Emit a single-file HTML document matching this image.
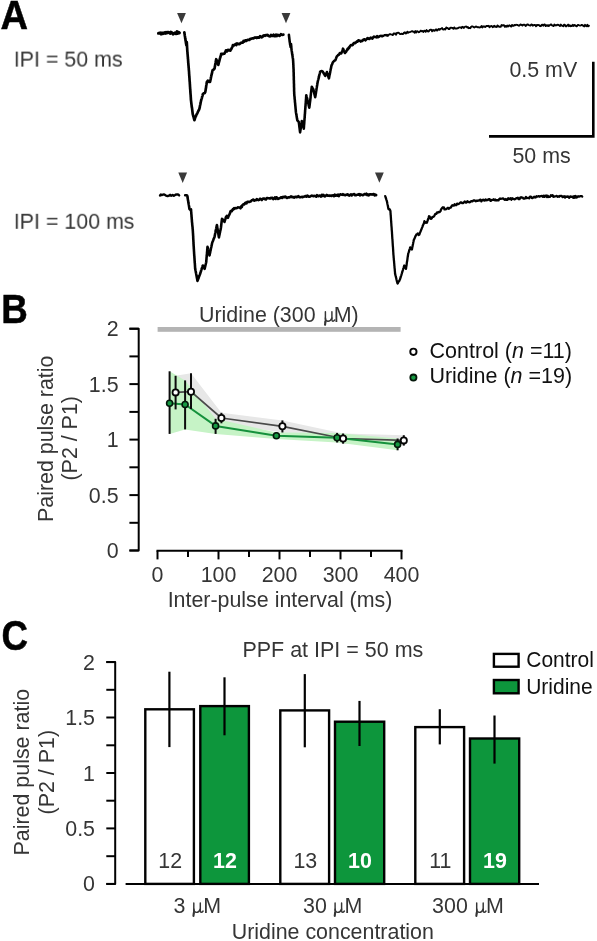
<!DOCTYPE html>
<html><head><meta charset="utf-8"><title>Figure</title>
<style>
html,body{margin:0;padding:0;background:#fff;}
body{width:597px;height:941px;overflow:hidden;font-family:"Liberation Sans",sans-serif;}
svg{display:block;font-family:"Liberation Sans",sans-serif;will-change:transform;}
</style></head><body>
<svg width="597" height="941" viewBox="0 0 597 941">
<rect width="597" height="941" fill="#fff"/>
<g opacity="0.999">
<path d="M158.5,33.3 L159.4,33.1 L160.2,32.9 L161.1,34.0 L162.0,33.0 L162.8,33.7 L163.6,33.3 L164.4,32.6 L165.2,33.3 L166.0,32.3 L166.8,33.0 L167.6,32.2 L168.4,32.2 L169.2,32.7 L170.0,33.4 L170.8,32.2 L171.6,32.5 L172.4,33.3 L173.2,34.1 L174.0,33.4 L175.0,32.9 L176.0,33.7 L177.0,31.7 L177.8,33.4 L178.6,32.4 L179.4,32.9" fill="none" stroke="#000" stroke-width="3.1" stroke-linejoin="round" stroke-linecap="round"/>
<path d="M184.3,32.3 L184.4,33.2 L184.6,34.0 L184.7,34.9 L184.8,35.7 L185.0,36.6 L185.1,37.4 L185.2,38.3 L185.4,39.1 L185.5,40.0 L185.6,40.8 L185.8,41.7 L185.9,42.5 L186.0,43.3 L186.2,44.2 L186.3,45.0 L186.5,44.0 L186.6,43.0 L186.8,42.0 L186.8,42.8 L186.9,43.7 L186.9,44.5 L187.0,45.3 L187.0,46.2 L187.1,47.0 L187.1,47.8 L187.2,48.7 L187.2,49.5 L187.3,50.3 L187.3,51.1 L187.4,51.9 L187.5,52.7 L187.5,53.5 L187.6,54.3 L187.7,55.1 L187.7,55.9 L187.8,56.7 L187.9,57.5 L187.9,58.3 L188.0,59.1 L188.1,59.9 L188.1,60.7 L188.2,61.5 L188.2,62.3 L188.3,63.1 L188.4,63.9 L188.4,64.7 L188.5,65.5 L188.6,66.3 L188.6,67.1 L188.7,67.9 L188.8,68.7 L188.8,69.5 L188.9,70.3 L189.0,71.1 L189.0,71.9 L189.1,72.7 L189.1,73.6 L189.2,74.4 L189.2,75.2 L189.3,76.0 L189.4,76.8 L189.4,77.6 L189.5,78.4 L189.5,79.2 L189.6,80.1 L189.6,80.9 L189.7,81.7 L189.8,82.5 L189.8,83.3 L189.9,84.1 L189.9,84.9 L190.0,85.8 L190.0,86.6 L190.1,87.4 L190.1,88.2 L190.2,89.0 L190.3,89.8 L190.3,90.6 L190.4,91.5 L190.4,92.3 L190.5,93.1 L190.5,93.9 L190.6,94.7 L190.7,95.5 L190.7,96.3 L190.8,97.1 L190.8,98.0 L190.9,98.8 L190.9,99.6 L191.0,100.4 L191.1,101.2 L191.2,102.1 L191.3,102.9 L191.4,103.8 L191.5,104.6 L191.6,105.4 L191.7,106.3 L191.8,107.1 L192.0,107.9 L192.1,108.8 L192.2,109.6 L192.3,110.5 L192.4,111.3 L192.5,112.1 L192.6,113.0 L192.7,113.8 L192.9,114.6 L193.1,115.4 L193.3,116.2 L193.6,117.0 L193.8,117.8 L194.0,118.6 L194.2,119.4 L194.4,120.2 L194.7,119.4 L194.9,118.6 L195.2,117.8 L195.5,117.0 L195.7,116.3 L196.0,116.0 L196.5,114.6 L197.0,113.8 L197.5,112.8 L197.9,111.9 L198.3,111.2 L198.6,110.3 L199.0,109.8 L199.4,108.8 L199.6,107.9 L199.8,107.1 L199.9,106.2 L200.1,105.3 L200.3,104.5 L200.5,103.6 L200.6,102.7 L200.8,101.9 L201.0,101.0 L201.2,100.2 L201.4,99.4 L201.7,98.6 L201.9,97.8 L202.1,96.9 L202.4,96.1 L202.6,95.3 L202.8,94.2 L204.0,93.1 L204.7,93.2 L205.3,92.0 L205.4,91.2 L205.6,90.3 L205.7,89.5 L205.8,88.6 L206.0,87.8 L206.1,87.0 L206.2,86.1 L206.3,85.3 L206.5,84.5 L206.6,83.6 L206.7,82.8 L206.9,81.9 L207.0,82.0 L207.8,80.7 L208.5,81.2 L209.2,82.0 L210.0,82.0 L210.2,81.1 L210.4,80.2 L210.6,79.4 L210.8,78.5 L210.9,77.6 L211.1,76.8 L211.3,75.9 L211.5,75.0 L211.7,74.2 L211.9,73.4 L212.1,72.6 L212.2,71.8 L212.4,71.0 L212.6,70.2 L212.8,69.9 L213.7,69.5 L214.5,68.6 L214.7,67.8 L214.8,66.9 L215.0,66.1 L215.1,65.3 L215.3,64.4 L215.4,63.6 L215.6,62.7 L215.7,61.9 L215.9,61.1 L216.0,60.2 L216.2,59.2 L216.6,60.1 L216.9,61.3 L217.3,62.0 L217.6,62.9 L218.0,64.0 L218.3,64.9 L218.5,64.1 L218.7,63.2 L218.9,62.4 L219.2,61.5 L219.4,60.7 L219.6,59.8 L219.8,59.0 L220.0,58.2 L220.3,57.4 L220.5,56.6 L220.7,55.9 L221.0,55.1 L221.2,53.8 L222.0,53.9 L222.8,54.1 L223.7,53.5 L224.5,53.6 L225.0,52.4 L225.5,51.8 L226.0,50.3 L226.9,51.4 L227.9,49.9 L228.7,50.1 L229.6,50.4 L230.4,50.6 L230.8,49.4 L231.2,49.2 L231.7,48.1 L232.1,47.4 L232.5,46.7 L232.9,45.1 L233.9,45.5 L235.0,44.6 L235.7,43.9 L236.4,45.0 L237.1,43.4 L238.1,43.8 L239.0,44.2 L240.0,43.7 L240.7,42.9 L241.4,42.8 L242.1,42.5 L242.8,42.6 L243.5,41.0 L244.3,41.5 L245.0,40.5 L245.7,40.3 L246.4,40.9 L247.2,40.0 L247.9,39.8 L248.6,39.8 L249.4,39.9 L250.2,38.8 L251.1,38.9 L251.9,38.5 L252.7,38.3 L253.5,38.4 L254.3,37.7 L255.2,37.7 L256.0,37.4 L256.8,38.0 L257.6,37.4 L258.5,37.7 L259.3,37.7 L260.1,36.2 L261.0,36.7 L261.8,37.3 L262.6,36.9 L263.4,35.5 L264.3,35.3 L265.1,35.8 L265.9,35.0 L266.8,35.3 L267.6,34.9 L268.5,36.0 L269.3,36.2 L270.1,36.4 L271.0,34.9 L271.8,35.9 L272.7,35.8 L273.5,34.7 L274.3,36.1 L275.1,36.2 L276.0,34.7 L276.8,36.0 L277.6,34.9 L278.4,35.0 L279.3,35.9 L280.1,35.6 L280.9,34.2 L281.8,34.7 L282.6,34.8 L283.4,34.7" fill="none" stroke="#000" stroke-width="2.7" stroke-linejoin="round" stroke-linecap="round"/>
<path d="M288.9,34.9 L289.0,35.8 L289.1,36.6 L289.2,37.5 L289.3,38.3 L289.4,39.2 L289.5,40.1 L289.6,40.9 L289.7,41.8 L289.9,42.7 L290.0,43.5 L290.1,44.4 L290.3,45.3 L290.5,46.1 L290.6,47.0 L290.7,46.0 L290.9,45.0 L291.0,44.0 L291.1,44.9 L291.2,45.8 L291.3,46.7 L291.3,47.5 L291.4,48.4 L291.5,49.3 L291.6,50.2 L291.7,51.0 L291.9,51.8 L292.0,52.7 L292.1,53.5 L292.2,54.3 L292.4,55.1 L292.5,55.9 L292.6,56.7 L292.7,57.5 L292.9,58.4 L293.0,59.2 L293.1,60.0 L293.1,60.9 L293.2,61.7 L293.2,62.6 L293.3,63.4 L293.3,64.3 L293.4,65.2 L293.4,66.0 L293.4,66.9 L293.5,67.7 L293.5,68.6 L293.6,69.4 L293.6,70.3 L293.6,71.1 L293.6,71.9 L293.7,72.7 L293.7,73.5 L293.7,74.3 L293.7,75.1 L293.7,75.9 L293.8,76.7 L293.8,77.5 L293.8,78.3 L293.8,79.1 L293.8,79.9 L293.9,80.7 L293.9,81.5 L293.9,82.3 L293.9,83.1 L294.0,83.9 L294.0,84.7 L294.0,85.5 L294.0,86.3 L294.0,87.1 L294.1,87.9 L294.1,88.7 L294.1,89.5 L294.1,90.3 L294.1,91.1 L294.2,91.9 L294.2,92.7 L294.2,93.5 L294.3,94.3 L294.3,95.1 L294.4,95.9 L294.5,96.7 L294.6,97.5 L294.6,98.3 L294.7,99.1 L294.8,99.9 L294.9,100.7 L294.9,101.5 L295.0,102.3 L295.1,103.1 L295.2,103.9 L295.2,104.7 L295.3,105.5 L295.4,106.3 L295.5,107.1 L295.5,107.9 L295.6,108.7 L295.7,109.5 L295.8,110.3 L295.8,111.1 L295.9,111.9 L296.0,112.7 L296.2,113.6 L296.3,114.4 L296.5,115.3 L296.6,116.1 L296.7,116.9 L296.9,117.8 L297.0,118.6 L297.2,119.5 L297.3,120.3 L298.1,121.2 L298.8,122.0 L298.9,122.8 L299.0,123.6 L299.1,124.4 L299.2,125.2 L299.3,126.0 L299.4,126.8 L299.5,127.6 L299.6,128.4 L299.7,129.2 L299.8,130.0 L299.9,130.8 L300.0,131.6 L300.1,132.4 L300.2,131.6 L300.3,130.8 L300.5,130.0 L300.6,129.2 L300.7,128.4 L300.8,127.6 L301.0,126.8 L301.1,125.9 L301.2,125.1 L301.3,124.3 L301.4,123.5 L301.6,122.7 L301.7,121.9 L301.8,121.1 L302.0,121.9 L302.2,122.8 L302.5,123.6 L302.7,124.5 L302.9,125.3 L303.1,126.2 L303.4,127.0 L303.6,127.9 L303.8,128.7 L303.9,127.9 L303.9,127.1 L304.0,126.2 L304.0,125.4 L304.1,124.6 L304.2,123.8 L304.2,123.0 L304.3,122.2 L304.3,121.3 L304.4,120.5 L304.5,119.7 L304.5,118.9 L304.6,118.1 L304.7,117.3 L304.7,116.4 L304.8,115.6 L304.8,114.8 L304.9,114.0 L305.0,113.2 L305.0,112.4 L305.1,111.5 L305.1,110.7 L305.2,109.9 L305.3,109.1 L305.3,108.3 L305.4,107.5 L305.4,106.6 L305.5,105.8 L305.6,105.0 L305.6,104.2 L305.7,103.4 L305.8,102.6 L305.8,101.7 L305.9,100.9 L305.9,100.1 L306.0,99.3 L306.1,98.5 L306.1,97.7 L306.2,96.8 L306.2,96.0 L306.3,95.2 L306.5,96.0 L306.7,96.8 L306.9,97.5 L307.1,98.3 L307.2,99.1 L307.4,99.9 L307.6,100.7 L307.8,101.5 L308.0,102.2 L308.2,103.0 L308.4,103.8 L308.6,104.6 L308.7,105.4 L308.9,106.1 L309.1,106.9 L309.3,107.7 L309.4,106.9 L309.5,106.1 L309.6,105.3 L309.7,104.5 L309.8,103.7 L309.9,102.9 L310.0,102.1 L310.1,101.3 L310.2,100.5 L310.3,99.7 L310.4,98.9 L310.5,98.1 L310.6,97.2 L310.6,96.4 L310.7,95.6 L310.8,94.8 L310.9,94.0 L311.0,93.2 L311.1,92.4 L311.2,91.6 L311.3,90.8 L311.4,90.0 L311.5,89.2 L311.6,88.4 L311.7,87.6 L311.8,86.7 L312.2,87.4 L312.6,88.7 L313.1,88.8 L313.5,90.0 L313.7,90.8 L313.9,91.6 L314.1,92.4 L314.3,93.2 L314.4,94.0 L314.6,94.8 L314.8,95.6 L315.0,96.4 L315.2,97.2 L315.3,96.4 L315.5,95.6 L315.6,94.8 L315.7,94.0 L315.9,93.1 L316.0,92.3 L316.1,91.5 L316.3,90.7 L316.4,89.9 L316.5,89.1 L316.6,88.3 L316.8,87.5 L316.9,86.7 L317.0,85.9 L317.2,85.0 L317.3,84.2 L317.4,83.4 L317.6,82.6 L317.7,81.8 L317.9,81.0 L318.1,80.2 L318.3,79.5 L318.5,78.7 L318.7,77.9 L318.9,77.1 L319.0,76.4 L319.2,75.6 L319.4,74.8 L319.6,74.0 L319.8,73.3 L320.0,72.5 L320.2,71.6 L321.0,71.3 L321.9,71.1 L322.7,71.6 L323.1,72.6 L323.5,72.7 L323.9,73.8 L324.4,74.2 L324.8,75.2 L325.2,75.8 L325.5,74.9 L325.9,74.2 L326.2,73.5 L326.6,73.1 L326.9,72.1 L327.1,72.9 L327.4,73.7 L327.6,74.5 L327.9,75.2 L328.1,76.0 L328.4,76.8 L328.6,77.6 L328.9,78.4 L329.1,77.6 L329.2,76.8 L329.4,76.0 L329.5,75.2 L329.7,74.5 L329.9,73.7 L330.0,72.9 L330.2,72.1 L330.3,71.3 L330.5,70.5 L330.6,69.7 L330.8,68.9 L331.0,68.2 L331.1,67.4 L331.3,66.6 L331.4,65.8 L331.6,65.1 L332.1,64.5 L332.5,63.1 L333.0,62.2 L333.6,61.5 L334.1,61.1 L334.7,60.5 L335.3,60.3 L335.7,59.4 L336.0,58.6 L336.4,57.3 L336.8,56.5 L337.1,56.1 L337.5,55.9 L338.3,54.7 L339.0,54.6 L339.8,53.1 L340.5,53.4 L341.3,53.4 L341.6,52.5 L342.0,51.7 L342.3,50.9 L342.7,49.7 L343.0,48.7 L343.4,49.4 L343.8,50.5 L344.2,51.4 L344.6,52.3 L345.0,53.0 L345.5,52.3 L346.0,51.8 L346.5,50.8 L347.0,50.2 L347.5,48.9 L348.0,49.3 L348.5,47.9 L349.0,48.2 L349.5,47.2 L350.0,46.1 L350.7,45.3 L351.4,45.0 L352.1,45.3 L352.8,44.9 L353.5,43.4 L354.1,42.9 L354.8,43.3 L355.5,42.9 L356.2,42.1 L356.9,41.4 L357.6,41.6 L358.4,40.3 L359.2,40.6 L359.9,40.7 L360.7,41.5 L361.5,40.7 L362.3,41.0 L363.0,40.0 L363.8,39.4 L364.6,39.2 L365.4,40.4 L366.1,39.7 L366.9,38.7 L367.7,38.0 L368.5,38.7 L369.3,38.9 L370.1,38.2 L370.9,37.7 L371.6,38.3 L372.4,38.7 L373.2,37.2 L374.0,36.6 L374.8,37.0 L375.6,37.0 L376.4,37.3 L377.1,36.2 L377.9,37.2 L378.7,36.9 L379.5,36.3 L380.3,36.1" fill="none" stroke="#000" stroke-width="2.6" stroke-linejoin="round" stroke-linecap="round"/>
<path d="M380.3,36.1 L381.1,35.4 L382.0,36.7 L382.8,35.4 L383.6,36.2 L384.5,35.0 L385.3,34.8 L386.1,35.7 L387.0,34.7 L387.8,35.9 L388.6,34.9 L389.5,34.2 L390.3,34.1 L391.1,34.4 L392.0,34.7 L392.8,35.1 L393.6,33.5 L394.5,33.8 L395.3,33.4 L396.1,34.7 L396.9,33.0 L397.7,32.8 L398.5,32.7 L399.3,33.3 L400.1,34.1 L400.9,34.0 L401.7,33.7 L402.5,34.1 L403.3,33.9 L404.1,32.6 L404.9,32.3 L405.7,33.6 L406.5,33.2 L407.3,31.7 L408.1,32.8 L408.9,32.2 L409.7,32.1 L410.5,31.9 L411.3,31.5 L412.1,31.1 L412.9,31.6 L413.7,31.7 L414.5,32.7 L415.3,31.1 L416.1,32.6 L416.9,31.1 L417.7,31.4 L418.5,32.2 L419.3,32.1 L420.1,31.3 L420.9,30.6 L421.7,31.3 L422.5,31.0 L423.3,32.0 L424.1,30.6 L424.9,30.9 L425.7,31.8 L426.5,30.1 L427.3,30.8 L428.1,31.5 L428.9,31.3 L429.7,29.9 L430.5,29.8 L431.3,29.7 L432.1,31.3 L433.0,29.9 L433.8,30.7 L434.6,30.9 L435.4,29.7 L436.3,29.4 L437.1,30.6 L437.9,29.8 L438.8,29.0 L439.6,29.8 L440.4,28.9 L441.2,28.7 L442.1,28.1 L442.9,29.4 L443.7,29.6 L444.5,28.9 L445.4,29.4 L446.2,27.5 L447.0,27.8 L447.8,28.2 L448.6,29.1 L449.4,29.1 L450.2,27.9 L451.0,27.6 L451.8,27.9 L452.6,28.0 L453.4,28.8 L454.2,27.4 L455.0,28.5 L455.8,28.4 L456.6,28.5 L457.4,28.3 L458.2,28.0 L459.0,27.4 L459.8,27.4 L460.6,27.4 L461.4,28.2 L462.2,26.8 L463.0,27.0 L463.8,28.0 L464.6,27.0 L465.4,26.6 L466.3,26.5 L467.1,27.5 L467.9,27.0 L468.7,28.2 L469.5,28.0 L470.3,28.2 L471.1,26.8 L471.9,26.4 L472.7,26.4 L473.5,27.1 L474.3,27.5 L475.1,26.9 L475.9,26.5 L476.7,26.8 L477.5,27.2 L478.3,27.2 L479.1,27.3 L479.9,27.5 L480.7,27.1 L481.5,26.0 L482.3,27.4 L483.1,26.3 L483.9,26.8 L484.7,26.4 L485.5,27.0 L486.3,26.0 L487.1,26.0 L487.9,26.0 L488.7,25.8 L489.5,27.2 L490.3,26.6 L491.1,26.0 L491.9,26.2 L492.7,27.3 L493.5,26.3 L494.3,25.8 L495.1,26.8 L495.9,26.5 L496.7,27.1 L497.5,25.4 L498.3,26.1 L499.1,26.7 L499.9,26.7 L500.7,26.8 L501.5,25.1 L502.3,25.6 L503.1,25.2 L504.0,25.3 L504.8,26.8 L505.6,26.0 L506.4,26.7 L507.2,25.6 L508.0,26.5 L508.8,25.7 L509.6,25.3 L510.4,26.2 L511.2,26.5 L512.0,24.9 L512.8,25.8 L513.6,25.8 L514.4,25.0 L515.2,25.3 L516.0,24.8 L516.8,24.9 L517.6,25.0 L518.4,25.6 L519.2,25.7 L520.0,24.8 L520.8,24.4 L521.6,25.0 L522.4,25.6 L523.2,24.7 L524.0,24.9 L524.8,24.7 L525.6,25.9 L526.4,25.4 L527.2,24.5 L528.0,24.5 L528.8,25.1 L529.6,25.4 L530.4,25.6 L531.2,24.5 L532.0,24.7 L532.8,25.7 L533.6,25.1 L534.4,24.9 L535.2,24.9 L536.0,26.2 L536.8,24.9 L537.6,25.4 L538.4,25.0 L539.2,25.1 L540.0,26.0 L540.8,26.2 L541.6,25.0 L542.4,24.7 L543.2,25.7 L544.0,24.7 L544.8,24.4 L545.6,26.1 L546.4,25.2 L547.2,25.9 L548.0,25.1 L548.8,26.0 L549.6,25.2 L550.4,24.7 L551.2,24.4 L552.0,25.4 L552.8,25.6 L553.6,26.1 L554.4,24.5 L555.2,25.5 L556.0,25.1 L556.8,25.3 L557.6,24.6 L558.4,24.9 L559.2,25.3 L560.0,26.1 L560.8,24.6 L561.6,25.3 L562.4,25.9 L563.2,26.2 L564.0,24.8 L564.8,24.7 L565.6,26.2 L566.4,26.3 L567.2,25.4 L568.1,24.6 L568.9,26.2 L569.7,25.2 L570.5,26.2 L571.3,25.7 L572.1,26.1 L572.9,24.8 L573.7,26.0 L574.5,25.0 L575.3,25.3 L576.1,26.2 L576.9,26.2 L577.7,24.9 L578.5,25.0 L579.3,25.4 L580.1,25.6 L580.9,25.4 L581.8,24.9 L582.6,25.1 L583.4,26.0 L584.2,26.4 L585.0,24.8 L585.8,25.8 L586.6,26.2 L587.4,24.8 L588.2,26.3 L589.0,25.7" fill="none" stroke="#000" stroke-width="1.9" stroke-linejoin="round" stroke-linecap="round"/>
<path d="M160.0,195.5 L160.8,194.5 L161.7,195.1 L162.6,194.7 L163.4,194.5 L164.2,194.4 L165.1,195.0 L166.0,195.7 L166.8,195.9 L167.6,196.2 L168.5,195.7 L169.3,195.6 L170.1,194.8 L171.0,195.8 L171.8,195.5 L172.6,194.9 L173.5,195.8 L174.3,195.7 L175.1,195.0 L176.0,194.3 L176.8,194.7 L177.6,194.3 L178.4,194.6 L179.2,195.5" fill="none" stroke="#000" stroke-width="2.3" stroke-linejoin="round" stroke-linecap="round"/>
<path d="M185.2,195.2 L186.2,195.2 L187.2,195.5 L187.3,196.3 L187.5,197.1 L187.6,197.9 L187.8,198.8 L187.9,199.6 L188.0,200.4 L188.2,201.2 L188.3,202.0 L188.4,202.8 L188.6,203.7 L188.7,204.5 L188.9,205.3 L189.0,206.1 L189.1,206.9 L189.3,207.8 L189.4,209.0 L190.2,209.6 L191.0,209.4 L191.1,210.2 L191.1,211.1 L191.2,211.9 L191.3,212.8 L191.3,213.6 L191.4,214.4 L191.5,215.3 L191.5,216.1 L191.6,217.0 L191.7,217.8 L191.7,218.6 L191.8,219.5 L191.9,220.3 L191.9,221.2 L192.0,222.0 L192.1,222.8 L192.2,223.6 L192.2,224.4 L192.3,225.2 L192.4,226.0 L192.5,226.8 L192.6,227.6 L192.6,228.4 L192.7,229.2 L192.8,230.0 L192.8,230.8 L192.9,231.6 L192.9,232.4 L193.0,233.2 L193.0,234.0 L193.1,234.8 L193.1,235.6 L193.2,236.4 L193.2,237.2 L193.2,238.0 L193.3,238.8 L193.3,239.6 L193.4,240.5 L193.4,241.3 L193.5,242.1 L193.5,242.9 L193.5,243.7 L193.6,244.5 L193.6,245.3 L193.7,246.1 L193.7,246.9 L193.8,247.7 L193.8,248.5 L193.9,249.3 L193.9,250.1 L194.0,250.9 L194.0,251.7 L194.1,252.6 L194.1,253.4 L194.2,254.2 L194.2,255.0 L194.3,255.8 L194.4,256.6 L194.4,257.5 L194.5,258.3 L194.5,259.1 L194.6,259.9 L194.6,260.7 L194.7,261.5 L194.7,262.4 L194.8,263.2 L194.9,264.0 L194.9,264.8 L195.0,265.6 L195.0,266.4 L195.1,267.3 L195.1,268.1 L195.2,268.9 L195.4,269.7 L195.5,270.5 L195.7,271.3 L195.8,272.1 L196.0,272.9 L196.1,273.7 L196.3,274.5 L196.4,275.3 L196.6,276.1 L196.7,276.9 L196.9,277.7 L197.0,278.5 L197.2,279.3 L197.3,280.1 L197.5,280.9 L197.8,280.0 L198.1,279.2 L198.4,278.5 L198.7,277.7 L199.0,276.8 L199.3,276.1 L199.6,275.2 L199.9,274.5 L200.2,273.6 L200.5,272.8 L200.7,272.0 L201.0,271.2 L201.2,270.4 L201.5,269.6 L201.8,268.7 L202.0,267.9 L202.3,267.1 L202.5,266.3 L202.8,265.5 L203.2,266.7 L203.7,266.9 L204.2,267.8 L204.6,268.9 L204.8,268.1 L205.0,267.2 L205.2,266.4 L205.4,265.5 L205.6,264.7 L205.8,263.9 L206.0,263.0 L206.2,262.2 L206.3,261.4 L206.3,260.6 L206.4,259.8 L206.5,259.0 L206.5,258.1 L206.6,257.3 L206.7,256.5 L206.7,255.7 L206.8,254.9 L206.9,254.1 L207.0,253.3 L207.0,252.5 L207.1,251.7 L207.2,250.9 L207.2,250.0 L207.3,249.2 L207.4,248.4 L207.4,247.6 L207.5,246.8 L207.7,247.6 L207.9,248.4 L208.0,249.2 L208.2,250.0 L208.4,250.8 L208.6,251.5 L208.8,252.3 L209.0,253.1 L209.1,253.9 L209.3,254.7 L209.5,255.5 L209.7,254.7 L209.8,253.9 L210.0,253.1 L210.2,252.3 L210.3,251.5 L210.5,250.7 L210.7,249.9 L210.8,249.1 L211.0,248.3 L211.2,247.5 L211.4,246.7 L211.5,245.9 L211.7,245.1 L211.9,244.3 L212.0,243.5 L212.2,242.8 L212.5,241.9 L212.9,241.2 L213.2,240.3 L213.5,239.4 L213.8,238.5 L214.2,237.9 L214.5,237.0 L214.7,236.2 L214.8,235.4 L215.0,234.6 L215.1,233.8 L215.3,233.0 L215.5,232.2 L215.6,231.4 L215.8,230.6 L215.9,229.8 L216.1,229.0 L216.3,228.2 L216.4,227.4 L216.6,226.6 L216.7,225.8 L216.9,225.0 L217.0,225.8 L217.2,226.7 L217.3,227.5 L217.4,228.3 L217.6,229.1 L217.7,230.0 L217.8,230.8 L218.0,231.6 L218.1,232.4 L218.2,233.3 L218.4,234.1 L218.5,234.9 L218.6,235.7 L218.8,236.6 L218.9,237.4 L219.1,236.6 L219.2,235.8 L219.4,235.1 L219.6,234.3 L219.7,233.5 L219.9,232.7 L220.1,231.9 L220.2,231.1 L220.4,230.3 L220.6,229.6 L220.7,228.8 L220.9,228.0 L221.0,227.1 L221.1,226.3 L221.2,225.4 L221.3,224.6 L221.4,223.7 L221.5,222.9 L221.6,222.0 L221.7,221.2 L221.8,220.3 L221.9,219.5 L222.0,218.9 L222.5,219.1 L223.0,220.2 L223.5,220.7 L224.0,221.0 L224.5,222.0 L224.7,221.2 L225.0,220.3 L225.2,219.5 L225.5,218.6 L225.7,217.8 L226.0,216.9 L226.2,216.8 L226.8,215.9 L227.3,217.2 L227.9,217.8 L228.2,217.2 L228.5,216.2 L228.8,215.6 L229.2,214.8 L229.5,214.3 L229.8,213.3 L230.1,212.9 L230.4,211.5 L231.0,210.9 L231.7,211.2 L232.3,210.3 L232.9,209.2 L233.5,209.5 L234.2,208.1 L234.8,208.7 L235.4,208.1 L236.2,208.2 L237.1,207.9 L237.9,207.4 L238.8,207.5 L239.7,207.5 L240.5,208.3 L241.2,206.4 L241.8,207.0 L242.5,205.0 L243.1,204.6 L243.8,204.0 L244.4,204.4 L245.0,203.2 L245.8,202.7 L246.5,203.3 L247.3,201.8 L248.0,201.9 L248.8,201.8 L249.6,201.9 L250.3,201.6 L251.1,201.1 L251.8,200.2 L252.6,199.9 L253.4,199.5 L254.3,200.7 L255.1,200.2 L255.9,200.3 L256.8,199.1 L257.6,199.6 L258.4,200.1 L259.3,199.7 L260.1,198.7 L260.9,199.3 L261.8,200.0 L262.6,198.7 L263.4,198.5 L264.3,198.6 L265.1,199.3 L265.9,199.5 L266.7,198.1 L267.5,198.1 L268.4,198.2 L269.2,198.3 L270.0,198.6 L270.8,197.8 L271.6,198.1 L272.4,197.8 L273.2,199.2 L274.0,198.7 L274.9,197.4 L275.7,199.0 L276.5,197.3 L277.3,197.8 L278.1,198.9 L278.9,198.5 L279.7,198.3 L280.5,197.7 L281.4,197.2 L282.2,197.9 L283.0,196.9 L283.8,197.0 L284.6,197.3 L285.4,196.6 L286.2,197.2 L287.0,197.9 L287.9,197.6 L288.7,197.2 L289.5,197.4 L290.3,197.0 L291.1,196.4 L291.9,197.2 L292.7,196.8 L293.5,197.4 L294.3,197.7 L295.2,196.7 L296.0,197.0 L296.8,197.3 L297.6,196.6 L298.4,196.2 L299.2,197.1 L300.0,197.4 L300.8,197.1 L301.6,196.9 L302.4,197.2 L303.3,196.8 L304.1,196.7 L304.9,196.3 L305.7,196.0 L306.5,196.6 L307.3,195.5 L308.1,196.1 L308.9,196.7 L309.7,196.6 L310.5,196.4 L311.4,195.6 L312.2,195.9 L313.0,195.9 L313.8,196.2 L314.6,195.8 L315.4,196.2 L316.2,196.7 L317.0,195.2 L317.8,196.1 L318.6,196.3 L319.4,195.6 L320.3,195.7 L321.1,196.6 L321.9,194.8 L322.7,195.8 L323.5,195.0 L324.3,196.2 L325.1,196.4 L325.9,195.6 L326.7,194.8 L327.5,195.7 L328.4,195.6 L329.2,195.9 L330.0,195.5 L330.8,195.7 L331.6,196.0 L332.4,195.4 L333.2,195.2 L334.0,196.2 L334.8,194.7 L335.6,195.6 L336.5,195.0 L337.3,195.7 L338.1,194.5 L338.9,196.1 L339.7,194.9 L340.5,194.3 L341.3,194.6 L342.1,194.9 L342.9,194.1 L343.7,194.9 L344.5,194.8 L345.4,195.3 L346.2,194.7 L347.0,194.5 L347.8,194.4 L348.6,195.3 L349.4,195.7 L350.2,194.9 L351.0,194.3 L351.8,195.4 L352.6,194.6 L353.5,194.2 L354.3,194.0 L355.1,195.2 L355.9,195.3 L356.7,194.9 L357.5,194.6 L358.3,194.7 L359.1,194.1 L359.9,195.4 L360.7,194.3 L361.6,194.8 L362.4,195.1 L363.2,195.1 L364.0,194.4 L364.8,194.0 L365.6,194.5 L366.4,193.7 L367.2,195.1 L368.0,194.3 L368.9,195.3 L369.7,194.2 L370.5,194.5 L371.3,194.3 L372.1,194.7 L372.9,194.3 L373.8,194.0 L374.6,195.4 L375.4,194.6 L376.2,195.1" fill="none" stroke="#000" stroke-width="2.6" stroke-linejoin="round" stroke-linecap="round"/>
<path d="M385.2,196.1 L385.5,196.9 L385.7,197.7 L386.0,198.5 L386.3,199.3 L386.5,200.1 L386.8,200.9 L387.0,201.7 L387.2,202.6 L387.3,203.4 L387.5,204.3 L387.7,205.1 L387.9,206.0 L388.0,206.8 L388.2,207.7 L388.4,208.9 L388.9,209.3 L389.4,209.1 L389.9,209.7 L390.4,211.0 L390.5,211.8 L390.5,212.6 L390.6,213.4 L390.6,214.2 L390.7,215.0 L390.8,215.8 L390.8,216.6 L390.9,217.4 L390.9,218.2 L391.0,219.0 L391.0,219.8 L391.1,220.7 L391.2,221.5 L391.2,222.3 L391.3,223.1 L391.3,223.9 L391.4,224.7 L391.4,225.5 L391.5,226.3 L391.6,227.1 L391.6,227.9 L391.7,228.7 L391.7,229.5 L391.8,230.3 L391.9,231.1 L391.9,231.9 L392.0,232.7 L392.0,233.5 L392.1,234.3 L392.1,235.2 L392.2,236.0 L392.2,236.8 L392.3,237.6 L392.3,238.4 L392.4,239.2 L392.5,240.0 L392.5,240.8 L392.6,241.6 L392.6,242.4 L392.7,243.3 L392.7,244.1 L392.8,244.9 L392.8,245.7 L392.9,246.5 L393.0,247.3 L393.0,248.1 L393.1,248.9 L393.1,249.7 L393.2,250.5 L393.2,251.4 L393.3,252.2 L393.3,253.0 L393.4,253.8 L393.4,254.6 L393.5,255.4 L393.6,256.2 L393.6,257.0 L393.7,257.8 L393.8,258.6 L393.8,259.4 L393.9,260.2 L394.0,261.0 L394.1,261.8 L394.1,262.6 L394.2,263.4 L394.3,264.2 L394.3,265.0 L394.4,265.8 L394.5,266.6 L394.5,267.4 L394.6,268.2 L394.7,269.0 L394.8,269.8 L394.8,270.6 L394.9,271.4 L395.0,272.2 L395.0,273.0 L395.1,273.8 L395.3,274.6 L395.5,275.4 L395.7,276.1 L395.9,276.9 L396.1,277.7 L396.3,278.5 L396.4,279.2 L396.6,280.0 L396.8,280.8 L397.0,281.6 L397.2,282.3 L397.4,283.1 L397.6,283.5 L398.0,283.0 L398.3,282.1 L398.7,281.5 L399.1,281.3 L399.5,280.3 L399.8,279.7 L400.2,278.8 L400.4,278.0 L400.7,277.2 L400.9,276.4 L401.2,275.6 L401.4,274.9 L401.6,274.1 L401.9,273.3 L402.1,272.5 L402.4,271.7 L402.6,270.9 L402.9,270.1 L403.1,269.3 L403.3,268.6 L403.6,267.8 L403.8,267.0 L404.1,266.2 L404.3,265.5 L404.7,266.2 L405.1,267.3 L405.6,268.2 L406.0,268.8 L406.1,268.0 L406.2,267.2 L406.3,266.4 L406.5,265.6 L406.6,264.8 L406.7,264.0 L406.8,263.2 L406.9,262.4 L407.0,261.6 L407.2,260.9 L407.3,260.1 L407.4,259.3 L407.5,258.5 L407.6,257.7 L407.7,256.9 L407.9,256.1 L408.0,255.3 L408.1,254.5 L408.2,253.7 L408.5,252.9 L408.8,252.0 L409.1,251.2 L409.3,250.3 L409.6,249.5 L409.9,248.6 L410.2,247.3 L410.8,247.6 L411.3,248.2 L411.9,249.5 L412.1,248.7 L412.2,247.8 L412.4,247.0 L412.6,246.2 L412.7,245.3 L412.9,244.5 L413.1,243.7 L413.2,242.8 L413.4,242.0 L413.6,241.2 L413.7,240.3 L413.9,239.7 L414.3,238.9 L414.6,238.3 L415.0,237.5 L415.4,236.2 L415.8,235.9 L416.1,235.2 L416.5,234.3 L416.9,234.4 L417.7,233.4 L418.6,235.0 L419.4,234.5 L419.7,233.4 L420.0,232.7 L420.3,232.1 L420.6,231.4 L421.0,230.3 L421.3,229.6 L421.6,229.0 L421.9,228.0 L422.2,227.5 L422.5,226.6 L422.8,225.6 L423.1,225.0 L423.5,224.3 L423.8,223.4 L424.1,222.7 L424.4,221.2 L425.2,222.7 L426.1,222.2 L426.9,222.7 L427.2,221.9 L427.4,221.1 L427.7,220.4 L427.9,219.6 L428.2,218.8 L428.5,218.1 L428.7,217.3 L429.0,216.2 L429.7,216.5 L430.4,218.6 L431.1,218.8 L431.7,218.4 L432.3,217.1 L432.9,216.9 L433.5,216.9 L434.1,216.1 L434.6,215.2 L435.2,214.1 L435.8,213.8 L436.4,213.9 L437.0,212.5 L437.9,212.6 L438.7,212.0 L439.5,212.2 L440.4,211.3 L440.8,210.1 L441.2,209.1 L441.6,208.7 L442.1,208.1 L442.5,207.6 L442.9,207.2 L443.4,208.0 L444.0,207.5 L444.5,209.4 L445.3,209.3 L446.2,209.2 L447.0,208.5 L447.9,207.8 L448.7,208.7 L449.4,208.2 L450.2,207.6 L450.9,207.6 L451.6,206.1 L452.3,205.2 L453.1,205.6 L453.8,205.7 L454.6,204.3 L455.5,205.1 L456.3,205.2 L457.1,203.6 L458.0,204.1 L458.8,203.9 L459.6,203.3 L460.4,202.5 L461.3,202.4 L462.1,203.1 L463.0,203.0 L463.9,202.3 L464.7,201.4 L465.6,202.6 L466.5,202.5 L467.4,201.3 L468.2,201.8 L469.1,202.3 L470.0,202.1 L470.8,201.4 L471.6,201.2 L472.4,201.4 L473.3,200.5 L474.1,200.5 L474.9,200.4 L475.7,201.3 L476.5,200.6 L477.4,200.9 L478.2,200.5 L479.0,200.7 L479.8,199.9 L480.6,199.7 L481.4,201.4 L482.2,200.2 L483.1,199.6 L483.9,200.5 L484.7,200.7 L485.5,199.5 L486.3,200.3 L487.1,199.8 L487.9,200.1 L488.7,199.1 L489.6,199.1 L490.4,200.8 L491.2,200.6 L492.0,199.8 L492.8,199.9 L493.6,199.3 L494.4,200.2 L495.2,199.5 L496.0,200.5 L496.8,200.1 L497.7,200.1 L498.5,200.4 L499.3,199.0 L500.1,198.5 L500.9,198.8 L501.7,198.7 L502.5,198.5 L503.3,198.4 L504.1,199.3 L504.9,199.9 L505.8,199.0 L506.6,199.9 L507.4,199.8 L508.2,198.2 L509.0,199.1 L509.8,198.7 L510.6,198.1 L511.4,199.7 L512.2,198.3 L513.0,198.8 L513.8,198.9 L514.7,199.4 L515.5,198.8 L516.3,198.2 L517.1,198.3 L517.9,197.7 L518.7,199.1 L519.5,199.1 L520.3,197.6 L521.1,197.2 L521.9,197.6 L522.8,197.7 L523.6,198.7 L524.4,198.6 L525.2,198.4 L526.0,196.9 L526.8,198.2 L527.6,198.0 L528.4,197.8 L529.2,198.4 L530.0,196.6 L530.9,196.7 L531.7,197.8 L532.5,198.1 L533.3,197.6 L534.1,196.8 L534.9,197.3 L535.7,197.5 L536.5,196.2 L537.3,196.6 L538.1,196.4 L538.9,196.1 L539.7,196.7 L540.5,196.1 L541.3,196.2 L542.1,195.9 L542.9,196.9 L543.7,195.6 L544.5,196.9 L545.3,195.8 L546.1,195.5 L546.9,197.1 L547.7,195.7 L548.5,197.0 L549.3,196.8 L550.1,196.8 L550.9,195.3 L551.7,195.9 L552.5,195.1 L553.3,196.8 L554.2,196.7 L555.0,196.3 L555.9,196.1 L556.7,195.9 L557.5,196.9 L558.4,196.3 L559.2,196.7 L560.0,195.8 L560.9,196.0 L561.7,195.8 L562.6,197.1 L563.4,196.9 L564.2,196.2 L565.1,197.6 L565.9,196.5 L566.8,196.9 L567.6,196.4 L568.4,196.6 L569.2,197.7 L570.0,196.7 L570.8,196.4 L571.7,196.9 L572.5,196.6 L573.3,197.7 L574.1,196.1 L574.9,197.8 L575.7,196.0 L576.5,197.5 L577.3,197.1 L578.1,196.2 L579.0,196.7 L579.8,196.3 L580.6,196.2 L581.4,196.1 L582.2,196.6" fill="none" stroke="#000" stroke-width="2.3" stroke-linejoin="round" stroke-linecap="round"/>
<path d="M177.1,12.9 L185.9,12.9 L181.5,23.3 Z" fill="#3a3a3a"/>
<path d="M281.6,12.9 L290.4,12.9 L286.0,23.3 Z" fill="#3a3a3a"/>
<path d="M178.3,172.5 L187.1,172.5 L182.7,182.9 Z" fill="#3a3a3a"/>
<path d="M375.0,172.4 L383.8,172.4 L379.4,182.8 Z" fill="#3a3a3a"/>
<path d="M489,136.4 L593.3,136.4 L593.3,61.7" fill="none" stroke="#000" stroke-width="2.6" stroke-linejoin="miter"/>
<text transform="translate(0.42,29) scale(0.97,1.026)" font-size="39.3" font-weight="bold" fill="#000" stroke="#000" stroke-width="0.5">A</text>
<text transform="translate(1.23,322.8) scale(0.937,1.015)" font-size="39.3" font-weight="bold" fill="#000" stroke="#000" stroke-width="0.5">B</text>
<text transform="translate(1.45,650.15) scale(0.935,1.08)" font-size="39.3" font-weight="bold" fill="#000" stroke="#000" stroke-width="0.5">C</text>
<text transform="translate(13.8,66.6) scale(0.9390,1)" font-size="22.79" text-anchor="start" font-weight="normal" fill="#353535" >IPI = 50 ms</text>
<text transform="translate(13.8,228.8) scale(0.9390,1)" font-size="22.79" text-anchor="start" font-weight="normal" fill="#353535" >IPI = 100 ms</text>
<text transform="translate(509.4,76.8) scale(0.9390,1)" font-size="22.79" text-anchor="start" font-weight="normal" fill="#353535" >0.5 mV</text>
<text transform="translate(512.4,163) scale(0.9390,1)" font-size="22.79" text-anchor="start" font-weight="normal" fill="#353535" >50 ms</text>
<text transform="translate(199,321.6) scale(0.9709,1)" font-size="22.04" text-anchor="start" font-weight="normal" fill="#353535" >Uridine (300</text>
<g transform="translate(325.4,321.2)" fill="none" stroke="#353535" stroke-width="1.45" stroke-linecap="round"><path d="M0,-9.4 L0,1.5"/><path d="M0,0.5 L-0.35,3.6" stroke-width="2.1"/><path d="M0,-3.2 C0.1,0.9 4.6,1.4 6.5,-3.2"/><path d="M6.5,-9.4 L6.5,-1.6 C6.5,0.4 8.1,0.5 9.3,-1.3"/></g>
<text transform="translate(333.8,321.6) scale(0.9709,1)" font-size="22.04" text-anchor="start" font-weight="normal" fill="#353535" >M)</text>
<rect x="157.6" y="327" width="243" height="4.8" fill="#b4b4b4"/>
<path d="M129.4,328.7 L138.7,328.7 L138.7,550.5 L129.4,550.5" stroke="#000" stroke-width="2" fill="none" stroke-linejoin="round"/>
<path d="M129.4,550.5 L138.7,550.5" stroke="#000" stroke-width="2"/>
<path d="M129.4,522.8 L138.7,522.8" stroke="#000" stroke-width="2"/>
<path d="M129.4,495.1 L138.7,495.1" stroke="#000" stroke-width="2"/>
<path d="M129.4,467.3 L138.7,467.3" stroke="#000" stroke-width="2"/>
<path d="M129.4,439.6 L138.7,439.6" stroke="#000" stroke-width="2"/>
<path d="M129.4,411.9 L138.7,411.9" stroke="#000" stroke-width="2"/>
<path d="M129.4,384.1 L138.7,384.1" stroke="#000" stroke-width="2"/>
<path d="M129.4,356.4 L138.7,356.4" stroke="#000" stroke-width="2"/>
<path d="M129.4,328.7 L138.7,328.7" stroke="#000" stroke-width="2"/>
<text transform="translate(118.6,336.2) scale(0.9709,1)" font-size="22.04" text-anchor="end" font-weight="normal" fill="#353535" >2</text>
<text transform="translate(118.6,391.65) scale(0.9709,1)" font-size="22.04" text-anchor="end" font-weight="normal" fill="#353535" >1.5</text>
<text transform="translate(118.6,447.1) scale(0.9709,1)" font-size="22.04" text-anchor="end" font-weight="normal" fill="#353535" >1</text>
<text transform="translate(118.6,502.55) scale(0.9709,1)" font-size="22.04" text-anchor="end" font-weight="normal" fill="#353535" >0.5</text>
<text transform="translate(118.6,558.0) scale(0.9709,1)" font-size="22.04" text-anchor="end" font-weight="normal" fill="#353535" >0</text>
<path d="M156.5,550.7 L402.5,550.7" stroke="#000" stroke-width="2"/>
<path d="M157.5,550.7 L157.5,559.4" stroke="#000" stroke-width="2"/>
<path d="M188.0,550.7 L188.0,556.9" stroke="#000" stroke-width="2"/>
<path d="M218.5,550.7 L218.5,559.4" stroke="#000" stroke-width="2"/>
<path d="M249.0,550.7 L249.0,556.9" stroke="#000" stroke-width="2"/>
<path d="M279.5,550.7 L279.5,559.4" stroke="#000" stroke-width="2"/>
<path d="M310.0,550.7 L310.0,556.9" stroke="#000" stroke-width="2"/>
<path d="M340.5,550.7 L340.5,559.4" stroke="#000" stroke-width="2"/>
<path d="M371.0,550.7 L371.0,556.9" stroke="#000" stroke-width="2"/>
<path d="M401.5,550.7 L401.5,559.4" stroke="#000" stroke-width="2"/>
<text transform="translate(157.5,582) scale(0.9709,1)" font-size="22.04" text-anchor="middle" font-weight="normal" fill="#353535" >0</text>
<text transform="translate(218.5,582) scale(0.9709,1)" font-size="22.04" text-anchor="middle" font-weight="normal" fill="#353535" >100</text>
<text transform="translate(279.5,582) scale(0.9709,1)" font-size="22.04" text-anchor="middle" font-weight="normal" fill="#353535" >200</text>
<text transform="translate(340.5,582) scale(0.9709,1)" font-size="22.04" text-anchor="middle" font-weight="normal" fill="#353535" >300</text>
<text transform="translate(401.5,582) scale(0.9709,1)" font-size="22.04" text-anchor="middle" font-weight="normal" fill="#353535" >400</text>
<text transform="translate(280,607.1) scale(0.9709,1)" font-size="22.04" text-anchor="middle" font-weight="normal" fill="#353535" >Inter-pulse interval (ms)</text>
<text transform="translate(52.9,438.8) rotate(-90)" font-size="21.4" text-anchor="middle" fill="#353535">Paired pulse ratio</text>
<text transform="translate(77.4,438.3) rotate(-90)" font-size="21.4" text-anchor="middle" fill="#353535">(P2 / P1)</text>
<path d="M175.6,375.8 L191.0,373.3 L221.4,412.8 L282.4,420.4 L343.1,433.5 L403.8,435.2 L403.8,445.6 L343.1,443.7 L282.4,432.5 L221.4,423.3 L191.0,409.0 L175.6,409.4 Z" fill="#e7e7e7"/>
<path d="M169.6,371.3 L185.1,380.4 L215.6,418.8 L276.4,432.4 L337.1,432.9 L397.6,438.5 L397.6,450.3 L337.1,442.5 L276.4,439.0 L215.6,433.9 L185.1,429.4 L169.6,433.9 Z" fill="#c6f3c6"/>
<path d="M175.6,392.4 L191.0,391.7 L221.4,418.0 L282.4,426.3 L343.1,438.5 L403.8,440.4" fill="none" stroke="#4a4a4a" stroke-width="1.7" stroke-linejoin="round"/>
<path d="M169.6,403.3 L185.1,404.5 L215.6,425.9 L276.4,435.7 L337.1,437.7 L397.6,444.4" fill="none" stroke="#15913c" stroke-width="2" stroke-linejoin="round"/>
<path d="M169.6,371.3 L169.6,433.9" stroke="#0c0c0c" stroke-width="2"/>
<path d="M175.6,375.8 L175.6,409.4" stroke="#0c0c0c" stroke-width="2"/>
<path d="M185.1,380.4 L185.1,429.4" stroke="#0c0c0c" stroke-width="2"/>
<path d="M191,373.3 L191,409" stroke="#0c0c0c" stroke-width="2"/>
<path d="M215.6,418.8 L215.6,433.9" stroke="#0c0c0c" stroke-width="2"/>
<path d="M221.4,412.8 L221.4,423.3" stroke="#0c0c0c" stroke-width="2"/>
<path d="M276.4,432.4 L276.4,439" stroke="#0c0c0c" stroke-width="2"/>
<path d="M282.4,420.4 L282.4,432.5" stroke="#0c0c0c" stroke-width="2"/>
<path d="M337.1,432.9 L337.1,442.5" stroke="#0c0c0c" stroke-width="2"/>
<path d="M343.1,433.5 L343.1,443.7" stroke="#0c0c0c" stroke-width="2"/>
<path d="M397.6,438.5 L397.6,450.3" stroke="#0c0c0c" stroke-width="2"/>
<path d="M403.8,435.2 L403.8,445.6" stroke="#0c0c0c" stroke-width="2"/>
<circle cx="169.6" cy="403.3" r="3.0" fill="#169a42" stroke="#04170a" stroke-width="1.6"/>
<circle cx="175.6" cy="392.4" r="3.1" fill="#fff" stroke="#050505" stroke-width="1.8"/>
<circle cx="185.1" cy="404.5" r="3.0" fill="#169a42" stroke="#04170a" stroke-width="1.6"/>
<circle cx="191" cy="391.7" r="3.1" fill="#fff" stroke="#050505" stroke-width="1.8"/>
<circle cx="215.6" cy="425.9" r="3.0" fill="#169a42" stroke="#04170a" stroke-width="1.6"/>
<circle cx="221.4" cy="418" r="3.1" fill="#fff" stroke="#050505" stroke-width="1.8"/>
<circle cx="276.4" cy="435.7" r="3.0" fill="#169a42" stroke="#04170a" stroke-width="1.6"/>
<circle cx="282.4" cy="426.3" r="3.1" fill="#fff" stroke="#050505" stroke-width="1.8"/>
<circle cx="337.1" cy="437.7" r="3.0" fill="#169a42" stroke="#04170a" stroke-width="1.6"/>
<circle cx="343.1" cy="438.5" r="3.1" fill="#fff" stroke="#050505" stroke-width="1.8"/>
<circle cx="397.6" cy="444.4" r="3.0" fill="#169a42" stroke="#04170a" stroke-width="1.6"/>
<circle cx="403.8" cy="440.4" r="3.1" fill="#fff" stroke="#050505" stroke-width="1.8"/>
<circle cx="413.4" cy="351.8" r="3.15" fill="#fff" stroke="#050505" stroke-width="1.9"/>
<circle cx="413.4" cy="377.6" r="3.1" fill="#169a42" stroke="#04170a" stroke-width="1.8"/>
<text transform="translate(429.6,357.7) scale(0.9709,1)" font-size="22.14" text-anchor="start" font-weight="normal" fill="#111" >Control (<tspan font-style="italic">n</tspan> =11)</text>
<text transform="translate(429.4,383.1) scale(0.9709,1)" font-size="22.14" text-anchor="start" font-weight="normal" fill="#111" >Uridine (<tspan font-style="italic">n</tspan> =19)</text>
<text transform="translate(242.4,656.9) scale(0.9709,1)" font-size="22.14" text-anchor="start" font-weight="normal" fill="#353535" >PPF at IPI = 50 ms</text>
<path d="M106.3,662.1 L115.2,662.1 L115.2,883.9 L106.3,883.9" stroke="#000" stroke-width="2" fill="none" stroke-linejoin="round"/>
<path d="M106.3,883.9 L115.2,883.9" stroke="#000" stroke-width="2"/>
<path d="M106.3,856.2 L115.2,856.2" stroke="#000" stroke-width="2"/>
<path d="M106.3,828.4 L115.2,828.4" stroke="#000" stroke-width="2"/>
<path d="M106.3,800.7 L115.2,800.7" stroke="#000" stroke-width="2"/>
<path d="M106.3,773.0 L115.2,773.0" stroke="#000" stroke-width="2"/>
<path d="M106.3,745.3 L115.2,745.3" stroke="#000" stroke-width="2"/>
<path d="M106.3,717.5 L115.2,717.5" stroke="#000" stroke-width="2"/>
<path d="M106.3,689.8 L115.2,689.8" stroke="#000" stroke-width="2"/>
<path d="M106.3,662.1 L115.2,662.1" stroke="#000" stroke-width="2"/>
<text transform="translate(95,669.5999999999999) scale(0.9709,1)" font-size="22.04" text-anchor="end" font-weight="normal" fill="#353535" >2</text>
<text transform="translate(95,725.05) scale(0.9709,1)" font-size="22.04" text-anchor="end" font-weight="normal" fill="#353535" >1.5</text>
<text transform="translate(95,780.5) scale(0.9709,1)" font-size="22.04" text-anchor="end" font-weight="normal" fill="#353535" >1</text>
<text transform="translate(95,835.9499999999999) scale(0.9709,1)" font-size="22.04" text-anchor="end" font-weight="normal" fill="#353535" >0.5</text>
<text transform="translate(95,891.4) scale(0.9709,1)" font-size="22.04" text-anchor="end" font-weight="normal" fill="#353535" >0</text>
<text transform="translate(29.3,772.2) rotate(-90)" font-size="21.4" text-anchor="middle" fill="#353535">Paired pulse ratio</text>
<text transform="translate(53.8,772.2) rotate(-90)" font-size="21.4" text-anchor="middle" fill="#353535">(P2 / P1)</text>
<rect x="145.3" y="709.3" width="48.6" height="174.6" fill="#fff" stroke="#000" stroke-width="2.4"/>
<rect x="200.3" y="706.1" width="48.6" height="177.8" fill="#0d963c" stroke="#000" stroke-width="2.4"/>
<rect x="280.3" y="710.4" width="48.8" height="173.5" fill="#fff" stroke="#000" stroke-width="2.4"/>
<rect x="335.0" y="721.7" width="49.2" height="162.2" fill="#0d963c" stroke="#000" stroke-width="2.4"/>
<rect x="415.3" y="727.1" width="48.8" height="156.8" fill="#fff" stroke="#000" stroke-width="2.4"/>
<rect x="470.0" y="738.5" width="49.2" height="145.4" fill="#0d963c" stroke="#000" stroke-width="2.4"/>
<path d="M125.6,883.9 L539,883.9" stroke="#000" stroke-width="2"/>
<path d="M169.4,671.7 L169.4,747.1" stroke="#000" stroke-width="2.2"/>
<text transform="translate(170.2,868.1) scale(0.9709,1)" font-size="22.04" text-anchor="middle" font-weight="normal" fill="#353535" >12</text>
<path d="M224.5,677.3 L224.5,735.3" stroke="#000" stroke-width="2.2"/>
<text transform="translate(224.9,868.1) scale(0.9709,1)" font-size="22.04" text-anchor="middle" font-weight="bold" fill="#fff" >12</text>
<path d="M304.8,674.1 L304.8,747.3" stroke="#000" stroke-width="2.2"/>
<text transform="translate(305.30000000000007,868.1) scale(0.9709,1)" font-size="22.04" text-anchor="middle" font-weight="normal" fill="#353535" >13</text>
<path d="M359.5,700.9 L359.5,746" stroke="#000" stroke-width="2.2"/>
<text transform="translate(359.90000000000003,868.1) scale(0.9709,1)" font-size="22.04" text-anchor="middle" font-weight="bold" fill="#fff" >10</text>
<path d="M439.8,709.2 L439.8,744.4" stroke="#000" stroke-width="2.2"/>
<text transform="translate(440.30000000000007,868.1) scale(0.9709,1)" font-size="22.04" text-anchor="middle" font-weight="normal" fill="#353535" >11</text>
<path d="M494.5,715.5 L494.5,763.6" stroke="#000" stroke-width="2.2"/>
<text transform="translate(494.90000000000003,868.1) scale(0.9709,1)" font-size="22.04" text-anchor="middle" font-weight="bold" fill="#fff" >19</text>
<text transform="translate(173.6,912.6) scale(0.9709,1)" font-size="22.04" text-anchor="start" font-weight="normal" fill="#353535" >3</text>
<g transform="translate(193.8,912.3)" fill="none" stroke="#353535" stroke-width="1.45" stroke-linecap="round"><path d="M0,-9.4 L0,1.5"/><path d="M0,0.5 L-0.35,3.6" stroke-width="2.1"/><path d="M0,-3.2 C0.1,0.9 4.6,1.4 6.5,-3.2"/><path d="M6.5,-9.4 L6.5,-1.6 C6.5,0.4 8.1,0.5 9.3,-1.3"/></g>
<text transform="translate(203.2,912.6) scale(0.9709,1)" font-size="22.04" text-anchor="start" font-weight="normal" fill="#353535" >M</text>
<text transform="translate(303,912.6) scale(0.9709,1)" font-size="22.04" text-anchor="start" font-weight="normal" fill="#353535" >30</text>
<g transform="translate(335.1,912.3)" fill="none" stroke="#353535" stroke-width="1.45" stroke-linecap="round"><path d="M0,-9.4 L0,1.5"/><path d="M0,0.5 L-0.35,3.6" stroke-width="2.1"/><path d="M0,-3.2 C0.1,0.9 4.6,1.4 6.5,-3.2"/><path d="M6.5,-9.4 L6.5,-1.6 C6.5,0.4 8.1,0.5 9.3,-1.3"/></g>
<text transform="translate(344.5,912.6) scale(0.9709,1)" font-size="22.04" text-anchor="start" font-weight="normal" fill="#353535" >M</text>
<text transform="translate(432.1,912.6) scale(0.9709,1)" font-size="22.04" text-anchor="start" font-weight="normal" fill="#353535" >300</text>
<g transform="translate(476.7,912.3)" fill="none" stroke="#353535" stroke-width="1.45" stroke-linecap="round"><path d="M0,-9.4 L0,1.5"/><path d="M0,0.5 L-0.35,3.6" stroke-width="2.1"/><path d="M0,-3.2 C0.1,0.9 4.6,1.4 6.5,-3.2"/><path d="M6.5,-9.4 L6.5,-1.6 C6.5,0.4 8.1,0.5 9.3,-1.3"/></g>
<text transform="translate(486.1,912.6) scale(0.9709,1)" font-size="22.04" text-anchor="start" font-weight="normal" fill="#353535" >M</text>
<text transform="translate(332.8,939.0) scale(0.9709,1)" font-size="22.04" text-anchor="middle" font-weight="normal" fill="#353535" >Uridine concentration</text>
<rect x="493.9" y="653.9" width="24.7" height="12.8" fill="#fff" stroke="#000" stroke-width="2.4"/>
<rect x="493.9" y="680" width="24.7" height="13.3" fill="#0d963c" stroke="#000" stroke-width="2.4"/>
<text transform="translate(526.3,667) scale(0.9709,1)" font-size="21.63" text-anchor="start" font-weight="normal" fill="#111" >Control</text>
<text transform="translate(526.2,693.9) scale(0.9709,1)" font-size="21.63" text-anchor="start" font-weight="normal" fill="#111" >Uridine</text>
</g>
</svg>
</body></html>
